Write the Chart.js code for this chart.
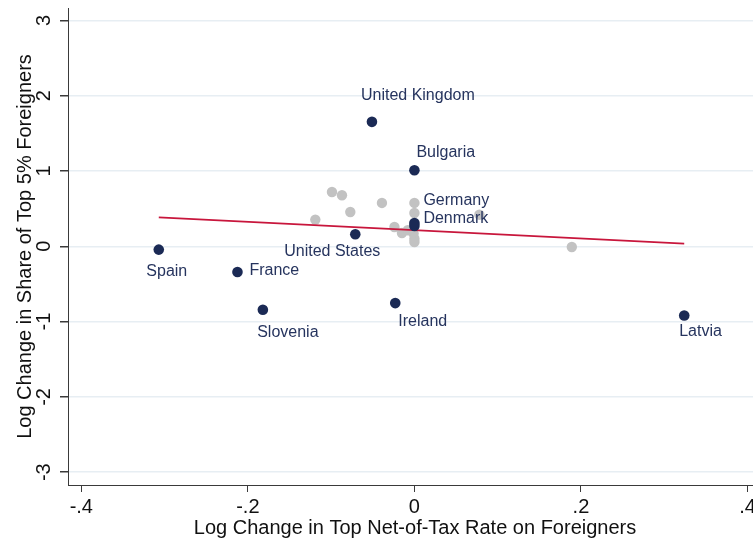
<!DOCTYPE html>
<html>
<head>
<meta charset="utf-8">
<script src="https://cdn.jsdelivr.net/npm/chart.js@4.4.1/dist/chart.umd.min.js"></script>
<style>
  html, body { margin: 0; padding: 0; background: #ffffff; }
  #wrap { width: 753px; height: 541px; }
</style>
</head>
<body>
<div id="wrap"><canvas id="c" width="753" height="541"></canvas></div>
<script>
// ---- Data ----
const countryNames = ["United Kingdom", "Bulgaria", "Germany", "Denmark", "United States", "Spain", "France", "Slovenia", "Ireland", "Latvia"];
const countryX = [-0.051, 0.0, 0.0, 0.0, -0.071, -0.307, -0.2125, -0.182, -0.023, 0.324];
const countryY = [1.653, 1.01, 0.27, 0.31, 0.16, -0.044, -0.342, -0.842, -0.754, -0.918];

const otherX = [-0.099, -0.087, -0.039, -0.077, -0.119, 0.0, 0.0, 0.078, -0.024, -0.015, -0.008, -0.001, 0.0, 0.0, 0.189, 0.0];
const otherY = [0.722, 0.678, 0.576, 0.456, 0.355, 0.576, 0.443, 0.42, 0.257, 0.177, 0.213, 0.169, 0.102, 0.057, -0.009, 0.30];

const fitX = [-0.307, 0.324];
const fitY = [0.383, 0.036];

const xTicks = [-0.4, -0.2, 0, 0.2, 0.4];
const xTickLabels = ["-.4", "-.2", "0", ".2", ".4"];
const yTicks = [3, 2, 1, 0, -1, -2, -3];
const yTickLabels = ["3", "2", "1", "0", "-1", "-2", "-3"];

const xTitle = "Log Change in Top Net-of-Tax Rate on Foreigners";
const yTitle = "Log Change in Share of Top 5% Foreigners";

// ---- Style (label placement relative to marker, in px) ----
const labelStyle = [
  { align: "left",   dx: -11, dy: -26 },
  { align: "left",   dx: 2,   dy: -18 },
  { align: "left",   dx: 9,   dy: -25 },
  { align: "left",   dx: 9,   dy: -4 },
  { align: "right",  dx: 25,  dy: 17 },
  { align: "center", dx: 8,   dy: 22 },
  { align: "left",   dx: 12,  dy: -1 },
  { align: "center", dx: 25,  dy: 23 },
  { align: "left",   dx: 3,   dy: 19 },
  { align: "left",   dx: -5,  dy: 16 }
];

const NAVY = "#1b2a55";
const GRAY = "#c2c2c2";
const RED = "#c8163c";
const AXIS = "#3a3a3a";
const FONT = "'Liberation Sans', Arial, Helvetica, sans-serif";

const textPlugin = {
  id: "textPlugin",
  afterDatasetsDraw(chart) {
    const ctx = chart.ctx;
    const xs = chart.scales.x, ys = chart.scales.y;
    ctx.save();
    // point labels
    ctx.font = "16px " + FONT;
    ctx.fillStyle = "#26345e";
    ctx.textBaseline = "middle";
    countryNames.forEach((n, i) => {
      const px = xs.getPixelForValue(countryX[i]);
      const py = ys.getPixelForValue(countryY[i]);
      const st = labelStyle[i];
      ctx.textAlign = st.align;
      ctx.fillText(n, px + st.dx, py + st.dy);
    });
    // x tick labels
    ctx.fillStyle = "#111";
    ctx.font = "20px " + FONT;
    ctx.textAlign = "center";
    ctx.textBaseline = "middle";
    xTicks.forEach((v, i) => {
      ctx.fillText(xTickLabels[i], xs.getPixelForValue(v), ys.bottom + 22);
    });
    // y tick labels (rotated)
    yTicks.forEach((v, i) => {
      ctx.save();
      ctx.translate(xs.left - 24, ys.getPixelForValue(v));
      ctx.rotate(-Math.PI / 2);
      ctx.fillText(yTickLabels[i], 0, 0);
      ctx.restore();
    });
    // titles
    ctx.font = "20px " + FONT;
    ctx.fillText(xTitle, 415, ys.bottom + 43);
    ctx.save();
    ctx.translate(25, (ys.top + ys.bottom) / 2);
    ctx.rotate(-Math.PI / 2);
    ctx.fillText(yTitle, 0, 0);
    ctx.restore();
    ctx.restore();
  }
};

const toPts = (xa, ya) => xa.map((x, i) => ({ x: x, y: ya[i] }));

new Chart(document.getElementById("c"), {
  type: "scatter",
  data: {
    datasets: [
      {
        label: "labeled",
        data: toPts(countryX, countryY),
        backgroundColor: NAVY,
        borderWidth: 0,
        pointRadius: 5.3,
        order: 0
      },
      {
        label: "fit",
        type: "line",
        data: toPts(fitX, fitY),
        borderColor: RED,
        borderWidth: 1.8,
        pointRadius: 0,
        fill: false,
        order: 1
      },
      {
        label: "others",
        data: toPts(otherX, otherY),
        backgroundColor: GRAY,
        borderWidth: 0,
        pointRadius: 5.2,
        order: 2
      }
    ]
  },
  options: {
    responsive: false,
    animation: false,
    devicePixelRatio: 1,
    layout: { autoPadding: false, padding: { top: 8, left: 0, right: 0, bottom: 0 } },
    plugins: { legend: { display: false }, tooltip: { enabled: false } },
    scales: {
      x: {
        type: "linear",
        min: -0.416,
        max: 0.4066,
        afterBuildTicks: (s) => { s.ticks = xTicks.map(v => ({ value: v })); },
        afterFit: (s) => { s.height = 56; s.paddingLeft = 0; s.paddingRight = 0; },
        ticks: { display: false },
        grid: { drawOnChartArea: false, drawTicks: true, tickLength: 7, tickColor: AXIS, color: AXIS },
        border: { display: true, color: AXIS, width: 1 }
      },
      y: {
        type: "linear",
        min: -3.17,
        max: 3.165,
        afterBuildTicks: (s) => { s.ticks = yTicks.map(v => ({ value: v })); },
        afterFit: (s) => { s.width = 68; s.paddingTop = 0; s.paddingBottom = 0; },
        ticks: { display: false },
        grid: { drawOnChartArea: true, drawTicks: true, tickLength: 8, tickColor: AXIS, color: "#e7eef3", lineWidth: 1.5 },
        border: { display: true, color: AXIS, width: 1 }
      }
    }
  },
  plugins: [textPlugin]
});
</script>
</body>
</html>
